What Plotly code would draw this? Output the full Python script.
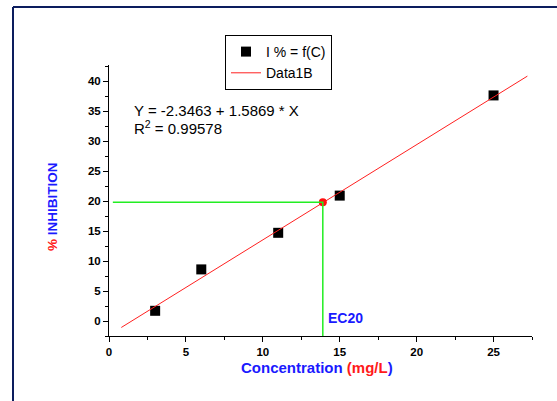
import plotly.graph_objects as go

# Data
conc = [3, 6, 11, 15, 25]
inhibition = [1.7, 8.6, 14.7, 20.9, 37.6]
intercept = -2.3463
slope = 1.5869
fit_x = [0.8, 27.2]
fit_y = [intercept + slope * v for v in fit_x]
ec20_x = 13.9
ec20_y = 19.8
x_start_guide = 0.25
y_floor = -2.5

FONT = "Liberation Sans, Arial, sans-serif"
BLUE = "#1a1aff"
RED = "#ff1a1a"

fig = go.Figure()

fig.add_trace(go.Scatter(
    x=conc, y=inhibition, mode="markers", name="I % = f(C)",
    marker=dict(symbol="square", size=10, color="black"),
))
fig.add_trace(go.Scatter(
    x=fit_x, y=fit_y, mode="lines", name="Data1B",
    line=dict(color="#ff2020", width=1),
))
fig.add_trace(go.Scatter(
    x=[ec20_x], y=[ec20_y], mode="markers", showlegend=False,
    marker=dict(symbol="circle", size=8, color="#ff1010"),
))
# Guide lines (green)
fig.add_trace(go.Scatter(
    x=[x_start_guide, ec20_x, ec20_x], y=[ec20_y, ec20_y, y_floor],
    mode="lines", showlegend=False,
    line=dict(color="#22ee22", width=1.5),
))

axis_common = dict(
    showline=True, linecolor="black", linewidth=1,
    ticks="outside", ticklen=5, tickcolor="black", tickwidth=1,
    showgrid=False, zeroline=False, mirror=False,
    tickfont=dict(family=FONT, size=11.5, color="black", weight="bold"),
    minor=dict(ticks="outside", ticklen=3, tickcolor="black", dtick=2.5),
)

fig.update_xaxes(range=[0, 27.5], dtick=5, tick0=0, **axis_common)
fig.update_yaxes(range=[-2.5, 42.67], dtick=5, tick0=0, **axis_common)

L, T, W, H = 109, 65, 423, 271  # plot area in page pixels
B = T + H


def px(x):
    return (x - L) / W


def py(y):
    return (B - y) / H


ann = []
ann.append(dict(xref="paper", yref="paper", x=px(132), y=py(110), xanchor="left", yanchor="middle",
                text="Y = -2.3463 + 1.5869 * X", showarrow=False,
                font=dict(family=FONT, size=15, color="black")))
ann.append(dict(xref="paper", yref="paper", x=px(132), y=py(128), xanchor="left", yanchor="middle",
                text="R<sup>2</sup> = 0.99578", showarrow=False,
                font=dict(family=FONT, size=15, color="black")))
ann.append(dict(xref="paper", yref="paper", x=px(326), y=py(318), xanchor="left", yanchor="middle",
                text="<b>EC20</b>", showarrow=False,
                font=dict(family=FONT, size=14, color=BLUE)))
ann.append(dict(xref="paper", yref="paper", x=px(317), y=py(367),
                xanchor="center", yanchor="middle", showarrow=False,
                text=f"<b><span style='color:{BLUE}'>Concentration </span><span style='color:{RED}'>(mg/L</span><span style='color:{BLUE}'>)</span></b>",
                font=dict(family=FONT, size=15)))
ann.append(dict(xref="paper", yref="paper", x=px(52), y=py(207),
                xanchor="center", yanchor="middle", showarrow=False, textangle=-90,
                text=f"<b><span style='color:{RED}'>%</span><span style='color:{BLUE}'> INHIBITION</span></b>",
                font=dict(family=FONT, size=13.5)))

fig.update_layout(
    width=557, height=401,
    margin=dict(l=L, r=557 - L - W, t=T, b=401 - B),
    paper_bgcolor="white", plot_bgcolor="white",
    showlegend=True,
    legend=dict(
        x=px(225), y=py(35), xanchor="left", yanchor="top",
        bordercolor="black", borderwidth=1, bgcolor="white",
        font=dict(family=FONT, size=14, color="black"),
        tracegroupgap=0, entrywidth=76, entrywidthmode="pixels",
    ),
    annotations=ann,
    shapes=[
        dict(type="line", xref="paper", yref="paper",
             x0=px(13), x1=px(562), y0=py(7), y1=py(7),
             line=dict(color="#0c1d5e", width=2)),
        dict(type="line", xref="paper", yref="paper",
             x0=px(13), x1=px(13), y0=py(7), y1=py(410),
             line=dict(color="#0c1d5e", width=2)),
    ],
)

fig.write_html("out.html", config={"displayModeBar": False},
               post_script="document.body.style.margin='0px';")
